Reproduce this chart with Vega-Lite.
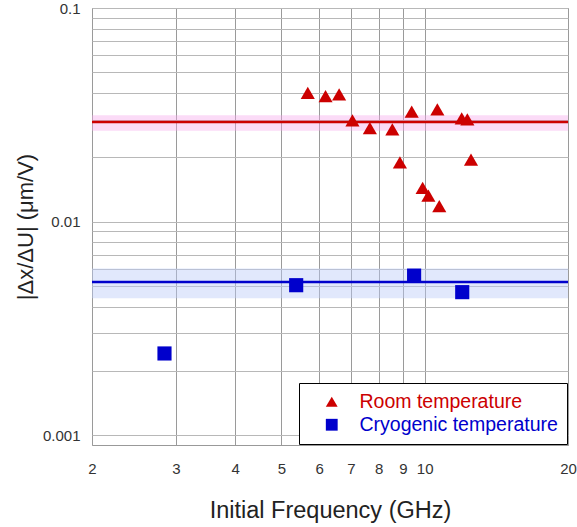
{
  "$schema": "https://vega.github.io/schema/vega-lite/v6.json",
  "width": 476,
  "height": 437,
  "autosize": {"type": "none"},
  "padding": {"left": 92, "top": 8, "right": 9, "bottom": 82},
  "background": "white",
  "config": {
    "view": {"stroke": "#999", "strokeWidth": 1},
    "font": "Liberation Sans",
    "axis": {
      "labelFont": "Liberation Sans",
      "titleFont": "Liberation Sans",
      "labelFontSize": 15,
      "labelColor": "#333",
      "titleFontSize": 22,
      "titleFontWeight": "normal",
      "titleColor": "#222",
      "ticks": false,
      "domain": false,
      "grid": true
    }
  },
  "datasets": {
    "points": [
      {"freq": 5.68, "sens": 0.0401, "type": "Room temperature"},
      {"freq": 6.19, "sens": 0.0387, "type": "Room temperature"},
      {"freq": 6.61, "sens": 0.0394, "type": "Room temperature"},
      {"freq": 7.05, "sens": 0.0298, "type": "Room temperature"},
      {"freq": 7.67, "sens": 0.0274, "type": "Room temperature"},
      {"freq": 8.55, "sens": 0.0270, "type": "Room temperature"},
      {"freq": 9.39, "sens": 0.0327, "type": "Room temperature"},
      {"freq": 10.63, "sens": 0.0335, "type": "Room temperature"},
      {"freq": 11.96, "sens": 0.0304, "type": "Room temperature"},
      {"freq": 12.29, "sens": 0.0301, "type": "Room temperature"},
      {"freq": 8.87, "sens": 0.01896, "type": "Room temperature"},
      {"freq": 12.51, "sens": 0.0195, "type": "Room temperature"},
      {"freq": 9.90, "sens": 0.01439, "type": "Room temperature"},
      {"freq": 10.18, "sens": 0.01325, "type": "Room temperature"},
      {"freq": 10.73, "sens": 0.01183, "type": "Room temperature"},
      {"freq": 2.84, "sens": 0.002414, "type": "Cryogenic temperature"},
      {"freq": 5.37, "sens": 0.005039, "type": "Cryogenic temperature"},
      {"freq": 9.50, "sens": 0.005588, "type": "Cryogenic temperature"},
      {"freq": 11.99, "sens": 0.004675, "type": "Cryogenic temperature"}
    ],
    "bands": [
      {"type": "Room temperature", "mean": 0.0293, "lo": 0.0266, "hi": 0.0315},
      {"type": "Cryogenic temperature", "mean": 0.00522, "lo": 0.00438, "hi": 0.00604}
    ]
  },
  "layer": [
    {
      "data": {"name": "bands"},
      "transform": [{"filter": "datum.type == 'Room temperature'"}],
      "mark": {"type": "rect", "color": "#f5a5eb", "opacity": 0.4},
      "encoding": {
        "y": {"field": "lo", "type": "quantitative", "scale": {"type": "log", "domain": [0.0009, 0.1], "nice": false},
          "axis": {
            "values": [0.001, 0.002, 0.003, 0.004, 0.005, 0.006, 0.007, 0.008, 0.009, 0.01, 0.02, 0.03, 0.04, 0.05, 0.06, 0.07, 0.08, 0.09, 0.1],
            "format": "~g",
            "labelExpr": "(datum.value == 0.001 || datum.value == 0.01 || datum.value == 0.1) ? datum.label : ''",
            "gridColor": "#b8b8b8",
            "gridWidth": 1.2,
            "labelPadding": 12,
            "titlePadding": 5,
            "title": "|Δx/ΔU| (μm/V)"
          }
        },
        "y2": {"field": "hi"}
      }
    },
    {
      "data": {"name": "bands"},
      "transform": [{"filter": "datum.type == 'Cryogenic temperature'"}],
      "mark": {"type": "rect", "color": "#bccdf8", "opacity": 0.45},
      "encoding": {
        "y": {"field": "lo", "type": "quantitative"},
        "y2": {"field": "hi"}
      }
    },
    {
      "data": {"name": "bands"},
      "transform": [{"filter": "datum.type == 'Room temperature'"}],
      "mark": {"type": "rule", "strokeWidth": 2.5, "color": "#cc0000"},
      "encoding": {
        "y": {"field": "mean", "type": "quantitative"}
      }
    },
    {
      "data": {"name": "bands"},
      "transform": [{"filter": "datum.type == 'Cryogenic temperature'"}],
      "mark": {"type": "rule", "strokeWidth": 2.5, "color": "#0000cc"},
      "encoding": {
        "y": {"field": "mean", "type": "quantitative"}
      }
    },
    {
      "data": {"name": "points"},
      "mark": {"type": "point", "filled": true, "opacity": 1, "size": 200},
      "encoding": {
        "x": {"field": "freq", "type": "quantitative",
          "scale": {"type": "log", "domain": [2, 20], "nice": false},
          "axis": {
            "values": [2, 3, 4, 5, 6, 7, 8, 9, 10, 20],
            "format": "d",
            "gridColor": "#9a9a9a",
            "gridWidth": 1,
            "labelPadding": 16,
            "titlePadding": 22,
            "labelFlush": false,
            "titleFontSize": 23.5,
            "title": "Initial Frequency (GHz)"
          }
        },
        "y": {"field": "sens", "type": "quantitative"},
        "color": {"field": "type", "type": "nominal",
          "scale": {"domain": ["Room temperature", "Cryogenic temperature"], "range": ["#cc0000", "#0000cc"]},
          "legend": {
            "title": null,
            "orient": "none",
            "legendX": 207,
            "legendY": 375,
            "strokeColor": "black",
            "fillColor": "white",
            "padding": 9,
            "symbolOffset": 14,
            "labelOffset": 18,
            "labelFont": "Liberation Sans",
            "labelFontSize": 19.5,
            "labelLimit": 300,
            "labelColor": {"expr": "datum.label == 'Room temperature' ? '#cc0000' : '#0000cc'"},
            "rowPadding": 2,
            "symbolSize": 140,
            "symbolStrokeWidth": 0,
            "cornerRadius": 0
          }
        },
        "shape": {"field": "type", "type": "nominal",
          "scale": {"domain": ["Room temperature", "Cryogenic temperature"], "range": ["triangle-up", "square"]}
        }
      }
    }
  ]
}
